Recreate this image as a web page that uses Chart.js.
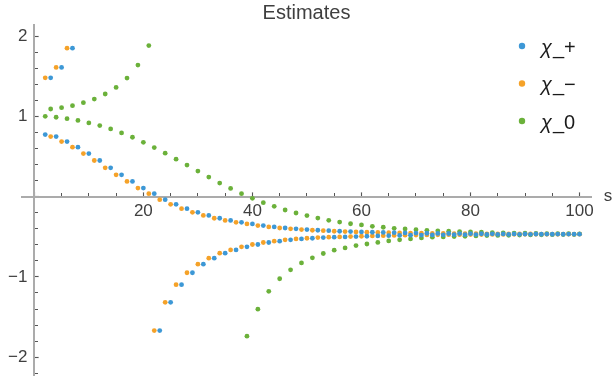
<!DOCTYPE html>
<html>
<head>
<meta charset="utf-8">
<title>Estimates</title>
<script src="https://cdn.jsdelivr.net/npm/chart.js@4.4.1/dist/chart.umd.min.js"></script>
<style>
  html, body { margin: 0; padding: 0; background: #ffffff; }
  #wrap { position: relative; width: 613px; height: 378px; }
</style>
</head>
<body>
<div id="wrap"><canvas id="chart" width="613" height="378"></canvas></div>
<script>
// Step index s shared by all three series
const sValues = [
  2, 3, 4, 5, 6, 7, 8, 9, 10, 11, 12, 13, 14, 15, 16, 17, 18, 19, 20, 21,
  22, 23, 24, 25, 26, 27, 28, 29, 30, 31, 32, 33, 34, 35, 36, 37, 38, 39, 40, 41,
  42, 43, 44, 45, 46, 47, 48, 49, 50, 51, 52, 53, 54, 55, 56, 57, 58, 59, 60, 61,
  62, 63, 64, 65, 66, 67, 68, 69, 70, 71, 72, 73, 74, 75, 76, 77, 78, 79, 80, 81,
  82, 83, 84, 85, 86, 87, 88, 89, 90, 91, 92, 93, 94, 95, 96, 97, 98, 99, 100
];

// χ_+ estimates (null = outside the plotted range)
const chiPlus = [
  0.774, 1.482, 0.749, 1.611, 0.687, 1.851, 0.617, null, 0.538, null,
  0.451, null, 0.360, null, 0.273, null, 0.190, null, 0.108, null,
  0.037, -1.669, -0.037, -1.317, -0.095, -1.097, -0.149, -0.948, -0.195, -0.841,
  -0.234, -0.766, -0.269, -0.704, -0.296, -0.663, -0.319, -0.625, -0.339, -0.596,
  -0.360, -0.571, -0.377, -0.555, -0.390, -0.538, -0.400, -0.526, -0.410, -0.518,
  -0.418, -0.509, -0.424, -0.505, -0.431, -0.501, -0.435, -0.497, -0.439, -0.493,
  -0.443, -0.489, -0.446, -0.486, -0.449, -0.483, -0.452, -0.480, -0.454, -0.478,
  -0.456, -0.476, -0.458, -0.475, -0.459, -0.474, -0.460, -0.473, -0.461, -0.472,
  -0.462, -0.471, -0.463, -0.470, -0.464, -0.470, -0.464, -0.469, -0.465, -0.469,
  -0.465, -0.468, -0.466, -0.468, -0.466, -0.468, -0.466, -0.467, -0.467
];

// χ_− estimates
const chiMinus = [
  1.482, 0.749, 1.611, 0.687, 1.851, 0.617, null, 0.538, null, 0.451,
  null, 0.360, null, 0.273, null, 0.190, null, 0.108, null, 0.037,
  -1.669, -0.037, -1.317, -0.095, -1.097, -0.149, -0.948, -0.195, -0.841, -0.234,
  -0.766, -0.269, -0.704, -0.296, -0.663, -0.319, -0.625, -0.339, -0.596, -0.360,
  -0.571, -0.377, -0.555, -0.390, -0.538, -0.400, -0.526, -0.410, -0.518, -0.418,
  -0.509, -0.424, -0.505, -0.431, -0.501, -0.435, -0.497, -0.439, -0.493, -0.443,
  -0.489, -0.446, -0.486, -0.449, -0.483, -0.452, -0.480, -0.454, -0.478, -0.456,
  -0.476, -0.458, -0.475, -0.459, -0.474, -0.460, -0.473, -0.461, -0.472, -0.462,
  -0.471, -0.463, -0.470, -0.464, -0.470, -0.464, -0.469, -0.465, -0.469, -0.465,
  -0.468, -0.466, -0.468, -0.466, -0.468, -0.466, -0.467, -0.467, -0.467
];

// χ_0 estimates
const chiZero = [
  1.002, 1.093, 0.990, 1.110, 0.973, 1.135, 0.951, 1.172, 0.919, 1.217,
  0.886, 1.280, 0.845, 1.362, 0.795, 1.478, 0.741, 1.640, 0.677, 1.884,
  0.612, null, 0.543, null, 0.468, null, 0.394, null, 0.319, null,
  0.245, null, 0.170, null, 0.103, null, 0.037, -1.739, -0.021, -1.402,
  -0.075, -1.180, -0.120, -1.023, -0.166, -0.911, -0.203, -0.826, -0.236, -0.762,
  -0.267, -0.708, -0.294, -0.667, -0.317, -0.638, -0.337, -0.609, -0.352, -0.590,
  -0.369, -0.570, -0.381, -0.551, -0.394, -0.538, -0.402, -0.526, -0.412, -0.514,
  -0.419, -0.505, -0.426, -0.501, -0.431, -0.497, -0.435, -0.493, -0.439, -0.489,
  -0.443, -0.485, -0.447, -0.483, -0.451, -0.481, -0.454, -0.479, -0.456, -0.477,
  -0.458, -0.475, -0.460, -0.473, -0.461, -0.472, -0.462, -0.471, -0.463
];

const seriesLabels = ['χ_+', 'χ_−', 'χ_0'];
const seriesColors = ['#3d98d6', '#f5a229', '#6bb13a'];

const xTickStep = 20, xMinorStep = 5;
const yTickStep = 1, yMinorStep = 0.2;

const FONT = "'Liberation Sans', Arial, sans-serif";
const TEXT = '#3f3f3f';
const AXIS = '#ababab';
const X_RANGE = { min: -2.26, max: 102.1 };
const Y_RANGE = { min: -2.23, max: 2.14 };

function toPoints(values) {
  const pts = [];
  values.forEach((v, i) => { if (v !== null) pts.push({ x: sValues[i], y: v }); });
  return pts;
}

const datasets = [chiPlus, chiMinus, chiZero].map((vals, i) => ({
  label: seriesLabels[i],
  data: toPoints(vals),
  backgroundColor: seriesColors[i],
  borderWidth: 0,
  pointRadius: 2.4,
  pointHoverRadius: 2.4
}));

const minus = v => (v < 0 ? '\u2212' + Math.abs(v) : String(v));

// Legend placed inside the plot region, on the right
const insetLegend = {
  id: 'insetLegend',
  afterDraw(chart, args, opts) {
    const ctx = chart.ctx;
    ctx.save();
    chart.data.datasets.forEach((ds, i) => {
      const cy = opts.top + i * opts.gap;
      ctx.fillStyle = ds.backgroundColor;
      ctx.beginPath();
      ctx.arc(opts.markerX, cy, opts.markerR, 0, Math.PI * 2);
      ctx.fill();
      const head = ds.label.charAt(0), tail = ds.label.slice(1);
      ctx.fillStyle = '#1a1a1a';
      ctx.textBaseline = 'middle';
      ctx.textAlign = 'left';
      ctx.font = 'italic ' + opts.size + 'px ' + FONT;
      ctx.fillText(head, opts.textX, cy + opts.textDy);
      const w = ctx.measureText(head).width;
      ctx.font = opts.size + 'px ' + FONT;
      ctx.fillText(tail, opts.textX + w + 1, cy + opts.textDy);
    });
    ctx.restore();
  }
};

// Axis name written just past the end of the horizontal axis
const axisName = {
  id: 'axisName',
  afterDraw(chart, args, opts) {
    const ctx = chart.ctx;
    const xs = chart.scales.x, ys = chart.scales.y;
    ctx.save();
    ctx.fillStyle = TEXT;
    ctx.font = opts.size + 'px ' + FONT;
    ctx.textAlign = 'center';
    ctx.textBaseline = 'middle';
    ctx.fillText(opts.text, xs.right + opts.gap, ys.getPixelForValue(0));
    ctx.restore();
  }
};

new Chart(document.getElementById('chart'), {
  type: 'scatter',
  data: { datasets },
  plugins: [insetLegend, axisName],
  options: {
    responsive: false,
    animation: false,
    events: [],
    layout: { padding: { left: 22, right: 22, top: 0, bottom: 1 } },
    plugins: {
      legend: { display: false },
      tooltip: { enabled: false },
      title: {
        display: true,
        text: 'Estimates',
        color: TEXT,
        font: { family: FONT, size: 20, weight: 'normal' },
        padding: { top: 1, bottom: 0 }
      },
      insetLegend: { markerX: 522, markerR: 3.2, textX: 541, top: 46, gap: 37.5, size: 20, textDy: 2 },
      axisName: { text: 's', size: 17, gap: 17 }
    },
    scales: {
      x: {
        type: 'linear', ...X_RANGE,
        position: { y: 0 },
        border: { color: AXIS, width: 2 },
        grid: { drawOnChartArea: false, tickLength: -6, tickColor: '#9a9a9a', tickWidth: 1.2 },
        ticks: {
          stepSize: xTickStep, includeBounds: false, autoSkip: false, maxRotation: 0,
          padding: 10, color: TEXT, font: { family: FONT, size: 17 },
          callback: v => (v === 0 ? '' : String(v))
        }
      },
      xMinor: {
        type: 'linear', ...X_RANGE,
        position: { y: 0 },
        border: { display: false },
        grid: { drawOnChartArea: false, tickLength: -4, tickColor: '#555555', tickWidth: 1 },
        ticks: { display: false, stepSize: xMinorStep, includeBounds: false }
      },
      y: {
        type: 'linear', ...Y_RANGE,
        position: { x: 0 },
        border: { color: AXIS, width: 2 },
        grid: { drawOnChartArea: false, tickLength: -6, tickColor: '#9a9a9a', tickWidth: 1.2 },
        ticks: { display: false, stepSize: yTickStep, includeBounds: false }
      },
      yMinor: {
        type: 'linear', ...Y_RANGE,
        position: { x: 0 },
        border: { display: false },
        grid: { drawOnChartArea: false, tickLength: -4, tickColor: '#555555', tickWidth: 1 },
        ticks: { display: false, stepSize: yMinorStep, includeBounds: false }
      },
      yLabels: {
        type: 'linear', ...Y_RANGE,
        position: { x: -1.25 },
        border: { display: false },
        grid: { display: false },
        ticks: {
          stepSize: yTickStep, includeBounds: false, padding: 0, color: TEXT,
          font: { family: FONT, size: 17, lineHeight: 0.1 },
          callback: v => (v === 0 ? '' : minus(v))
        }
      }
    }
  }
});
</script>
</body>
</html>
